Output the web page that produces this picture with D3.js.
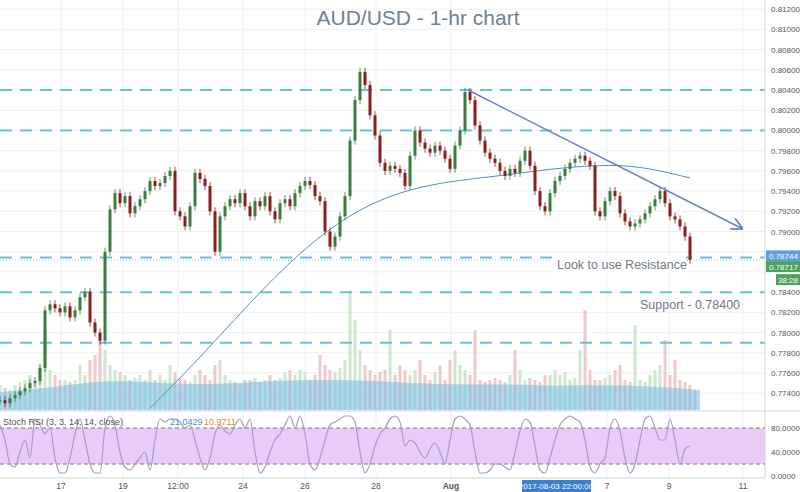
<!DOCTYPE html><html><head><meta charset="utf-8">
<script src="https://cdn.jsdelivr.net/npm/d3@7"></script>
<style>body{margin:0;background:#fff}text{font-family:"Liberation Sans",Arial,sans-serif}</style></head><body>
<svg id="c" width="800" height="492"></svg>
<script>
const closes=[0.7733,0.7730,0.7735,0.7738,0.7742,0.7745,0.7750,0.7752,0.7765,0.7822,0.7828,0.7824,0.7820,0.7826,0.7815,0.7822,0.7835,0.7840,0.7810,0.7800,0.7792,0.7880,0.7922,0.7938,0.7928,0.7935,0.7918,0.7925,0.7932,0.7940,0.7950,0.7945,0.7948,0.7955,0.7960,0.7920,0.7915,0.7905,0.7925,0.7958,0.7952,0.7945,0.7920,0.7880,0.7915,0.7925,0.7932,0.7928,0.7938,0.7925,0.7915,0.7930,0.7925,0.7935,0.7920,0.7912,0.7928,0.7932,0.7925,0.7938,0.7945,0.7950,0.7946,0.7935,0.7930,0.7900,0.7885,0.7895,0.7915,0.7935,0.7990,0.8030,0.8058,0.8045,0.8015,0.7995,0.7968,0.7960,0.7965,0.7962,0.7958,0.7945,0.7975,0.8000,0.7988,0.7982,0.7978,0.7985,0.7980,0.7972,0.7962,0.7985,0.8000,0.8038,0.8030,0.8005,0.7990,0.7978,0.7972,0.7968,0.7960,0.7955,0.7962,0.7958,0.7970,0.7980,0.7965,0.7940,0.7925,0.7920,0.7938,0.7950,0.7955,0.7962,0.7968,0.7972,0.7975,0.7970,0.7965,0.7920,0.7915,0.7930,0.7940,0.7935,0.7918,0.7910,0.7905,0.7908,0.7912,0.7918,0.7925,0.7932,0.7940,0.7928,0.7915,0.7912,0.7905,0.7895,0.7872];
const volumes=[25,22,20,25,28,30,35,30,45,80,40,35,30,30,28,30,45,35,50,55,70,60,45,40,38,35,30,32,35,30,40,30,35,30,45,38,32,30,28,35,40,35,30,45,50,35,30,28,25,30,30,32,28,30,35,30,32,38,40,35,40,38,30,35,55,45,40,38,42,50,120,90,60,45,40,35,38,40,80,35,45,40,35,40,50,35,30,38,45,30,50,60,45,40,35,80,30,28,30,32,30,28,35,60,40,30,32,30,28,35,35,40,35,38,30,32,60,100,40,30,30,32,35,40,45,30,28,85,30,28,35,40,45,70,35,50,30,28,25,20];
const volMA=[18,22,30,28,25,28,30,30,28,25,26,24,25,24,20];
const stochK=[85,60,20,15,40,60,30,95,85,70,80,30,5,5,30,70,95,60,20,5,5,80,100,85,40,15,10,20,30,40,10,60,95,90,95,95,90,80,85,60,30,10,30,70,85,75,70,85,95,80,95,40,5,15,40,60,70,85,100,80,100,70,20,10,30,60,85,90,95,100,100,90,40,5,20,50,70,80,95,100,90,50,60,55,40,30,45,55,40,20,60,95,100,95,85,40,5,5,10,20,20,15,10,40,75,95,90,50,10,5,30,60,85,95,100,95,90,60,15,5,20,30,80,95,75,30,5,20,60,95,100,80,60,60,95,60,20,45,50];
const maIdx=[30,40,50,60,70,80,90,100,110,120,128,138];
const maVal=[0.7725,0.7775,0.7830,0.7880,0.7918,0.7940,0.7950,0.7955,0.7962,0.7966,0.7965,0.7953];
const trend=[[93.6,0.8040],[148.4,0.7903]];
const hLines=[0.80400,0.80000,0.78744,0.78400,0.77900];
const priceTicks=d3.range(0.774,0.8121,0.002);
const xTicks=[[12.2,"17"],[24.6,"19"],[35.6,"12:00"],[48.6,"24"],[61,"26"],[75.2,"28"],[90.2,"Aug"],[121.4,"7"],[133.8,"9"],[148.6,"11"]];
const stochTicks=[0,40,80];

const svg=d3.select("#c");
const W=765;
const x=d3.scaleLinear().domain([0,153]).range([0,W]);
const y=d3.scaleLinear().domain([0.774,0.812]).range([393.2,9.2]);
const vy=d3.scaleLinear().domain([0,100]).range([410,310]);
const sy=d3.scaleLinear().domain([0,80]).range([476,428]);
const g=svg.append("g");
priceTicks.forEach(p=>g.append("line").attr("x1",0).attr("x2",W).attr("y1",y(p)).attr("y2",y(p)).attr("stroke","#eef0f3"));
xTicks.forEach(t=>g.append("line").attr("x1",x(t[0])).attr("x2",x(t[0])).attr("y1",0).attr("y2",478).attr("stroke","#eef0f3"));
const cw=3;
volumes.forEach((v,i)=>{const up=i==0||closes[i]>=closes[i-1];
 g.append("rect").attr("x",x(i)-cw/2).attr("width",cw).attr("y",vy(v)).attr("height",410-vy(v)).attr("fill",up?"#cfe6cf":"#eecaca");});
g.append("path").datum(volMA).attr("d",d3.area().x((d,i)=>x(i*10)).y0(410).y1(d=>vy(d)).curve(d3.curveBasis)).attr("fill","#74bde6").attr("opacity",0.55);
hLines.forEach(p=>g.append("line").attr("x1",0).attr("x2",W).attr("y1",y(p)).attr("y2",y(p)).attr("stroke","#6cc0d8").attr("stroke-width",2).attr("stroke-dasharray","12,8"));
g.append("line").attr("x1",0).attr("x2",W).attr("y1",y(0.78717)).attr("y2",y(0.78717)).attr("stroke","#bbb").attr("stroke-dasharray","1,2");
g.append("path").datum(maIdx.map((d,i)=>[d,maVal[i]])).attr("d",d3.line().x(d=>x(d[0])).y(d=>Math.min(y(d[1]),410)).curve(d3.curveBasis)).attr("fill","none").attr("stroke","#4a90c8").attr("stroke-width",1);
closes.forEach((c,i)=>{const o=i?closes[i-1]:c;const up=c>=o;const col=up?"#3b7d3f":"#8a1f1f";
 const hi=Math.max(o,c)+0.0004,lo=Math.min(o,c)-0.0004;
 g.append("line").attr("x1",x(i)).attr("x2",x(i)).attr("y1",y(hi)).attr("y2",y(lo)).attr("stroke",col).attr("stroke-width",0.8);
 g.append("rect").attr("x",x(i)-1.5).attr("width",3).attr("y",y(Math.max(o,c))).attr("height",Math.max(1,Math.abs(y(o)-y(c)))).attr("fill",col);});
svg.append("defs").append("marker").attr("id","ar").attr("viewBox","0 0 10 10").attr("refX",9).attr("refY",5).attr("markerWidth",8).attr("markerHeight",8).attr("orient","auto").append("path").attr("d","M0,0L10,5L0,10").attr("fill","none").attr("stroke","#6a7fc0").attr("stroke-width",1.5);
g.append("line").attr("x1",x(trend[0][0])).attr("y1",y(trend[0][1])).attr("x2",x(trend[1][0])).attr("y2",y(trend[1][1])).attr("stroke","#6a7fc0").attr("stroke-width",1.5).attr("marker-end","url(#ar)");
g.append("text").attr("x",418).attr("y",25).attr("text-anchor","middle").attr("font-size",21).attr("fill","#6f8194").text("AUD/USD - 1-hr chart");
g.append("rect").attr("x",552).attr("y",256).attr("width",134).attr("height",17).attr("fill","#fff");
g.append("text").attr("x",557).attr("y",269).attr("font-size",12.5).attr("fill","#6f7a85").text("Look to use Resistance");
g.append("text").attr("x",640).attr("y",309).attr("font-size",12.5).attr("fill","#6f7a85").text("Support - 0.78400");
g.append("line").attr("x1",W).attr("x2",W).attr("y1",0).attr("y2",478).attr("stroke","#d0d4d8");
priceTicks.filter(p=>p<0.7855||p>0.7885).forEach(p=>g.append("text").attr("x",771).attr("y",y(p)+3).attr("font-size",8).attr("fill","#555").text(p.toFixed(5)));
g.append("rect").attr("x",766).attr("y",y(0.78744)-7).attr("width",34).attr("height",11).attr("fill","#5f9fe0");
g.append("text").attr("x",769).attr("y",y(0.78744)+2).attr("font-size",8).attr("fill","#fff").text("0.78744");
g.append("rect").attr("x",766).attr("y",y(0.78717)+1).attr("width",34).attr("height",11).attr("fill","#50a060");
g.append("text").attr("x",769).attr("y",y(0.78717)+10).attr("font-size",8).attr("fill","#fff").text("0.78717");
g.append("rect").attr("x",776).attr("y",y(0.78717)+14).attr("width",24).attr("height",11).attr("fill","#50a060");
g.append("text").attr("x",778).attr("y",y(0.78717)+23).attr("font-size",8).attr("fill","#fff").text("38:28");
g.append("line").attr("x1",0).attr("x2",800).attr("y1",411).attr("y2",411).attr("stroke","#d0d4d8");
g.append("rect").attr("x",0).attr("width",W).attr("y",sy(80)).attr("height",sy(20)-sy(80)).attr("fill","#e8ccf8");
[80,20].forEach(v=>g.append("line").attr("x1",0).attr("x2",W).attr("y1",sy(v)).attr("y2",sy(v)).attr("stroke","#777").attr("stroke-dasharray","4,3"));
g.append("path").datum(stochK).attr("d",d3.line().x((d,i)=>x(i)).y(d=>sy(d)).curve(d3.curveMonotoneX)).attr("fill","none").attr("stroke","#a99ac8").attr("stroke-width",1.2);
stochTicks.forEach(v=>g.append("text").attr("x",771).attr("y",sy(v)+3).attr("font-size",8).attr("fill","#555").text(v.toFixed(4)));
g.append("text").attr("x",3).attr("y",425).attr("font-size",9).attr("fill","#555").text("Stoch RSI (3, 3, 14, 14, close)");
g.append("text").attr("x",170).attr("y",425).attr("font-size",9).attr("fill","#3d8fd0").text("21.0429");
g.append("text").attr("x",204).attr("y",425).attr("font-size",9).attr("fill","#e08a30").text("10.9711");
g.append("line").attr("x1",0).attr("x2",W).attr("y1",478).attr("y2",478).attr("stroke","#d0d4d8");
xTicks.forEach(t=>g.append("text").attr("x",x(t[0])).attr("y",489).attr("text-anchor","middle").attr("font-size",8.5).attr("fill","#555").attr("font-weight",t[1]=="Aug"?"bold":"normal").text(t[1]));
g.append("rect").attr("x",522).attr("y",480).attr("width",69).attr("height",12).attr("fill","#3c7fd0");
g.append("text").attr("x",556).attr("y",489).attr("text-anchor","middle").attr("font-size",8).attr("fill","#fff").text("2017-08-03 22:00:00");
</script></body></html>
